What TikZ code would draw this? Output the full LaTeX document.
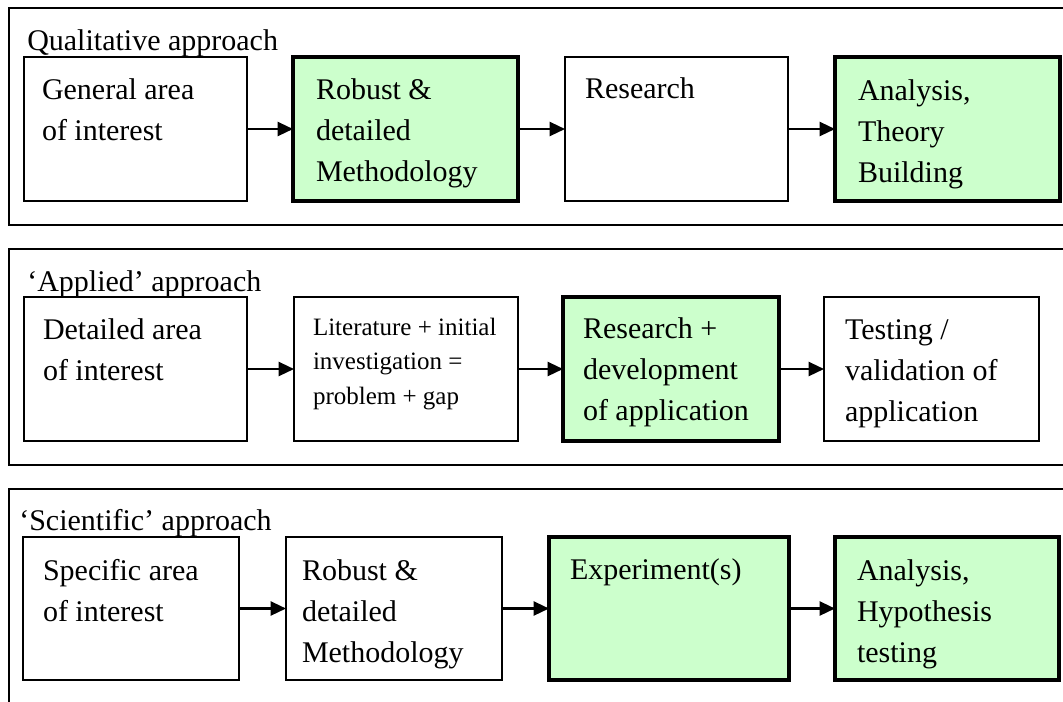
\documentclass[tikz,border=0pt]{standalone}
\usepackage{fontspec}
\setmainfont{Liberation Serif}
\usetikzlibrary{arrows.meta}
\definecolor{keygreen}{HTML}{CCFFCC}
% one drawing unit
\newdimen\pxu \pxu=0.75pt
\newcommand\mainsize{\fontsize{22.5pt}{30.75pt}\selectfont}
\newcommand\smallsize{\fontsize{18.75pt}{25.9pt}\selectfont}
% box body: #1 width, #2 height, #3 left inset, #4 first baseline depth, #5 lines
\newcommand\boxlines[5]{\parbox[c][#2\pxu][t]{#1\pxu}{\raggedright\leftskip=#3\pxu\relax\rule{0pt}{#4\pxu}#5}}
\tikzset{
  panel/.style={draw, line width=1.5pt},
  plainbox/.style={draw, line width=1pt, fill=white, inner sep=0pt, outer sep=0pt, anchor=north west, font=\mainsize},
  keybox/.style={draw, line width=3pt, fill=keygreen, inner sep=0pt, outer sep=0pt, anchor=north west, font=\mainsize},
  flow/.style={line width=1.7pt, -{Triangle[length=11.5pt,width=10.5pt]}},
  heading/.style={anchor=base west, inner sep=0pt, font=\mainsize}
}
\begin{document}
\begin{tikzpicture}[x=0.75pt,y=-0.75pt]
\useasboundingbox (0,0) rectangle (1063,701);
\clip (0,0) rectangle (1063,701);
\fill[white] (0,0) rectangle (1063,701);

% frames
\draw[panel] (9,8) rectangle (1085,225);
\draw[panel] (9,249) rectangle (1085,465);
\draw[panel] (9,489) rectangle (1085,730);

% qualitative row
\node[heading] (qah) at (27,50) {Qualitative approach};
\node[plainbox] (qa1) at (24,57) {\boxlines{223}{144}{18}{42}{General area\\of interest}};
\node[keybox] (qa2) at (293,57) {\boxlines{225}{144}{23}{42}{Robust \&\\detailed\\Methodology}};
\node[plainbox] (qa3) at (565,57) {\boxlines{223}{144}{20}{41}{Research}};
\node[keybox] (qa4) at (835,57) {\boxlines{225}{144}{23}{43}{Analysis,\\Theory\\Building}};
\draw[flow] (qa1.east) -- (qa2.west);
\draw[flow] (qa2.east) -- (qa3.west);
\draw[flow] (qa3.east) -- (qa4.west);

% applied row
\node[heading] (aph) at (27,291) {‘Applied’ approach};
\node[plainbox] (ap1) at (24,297) {\boxlines{223}{144}{19}{42}{Detailed area\\of interest}};
\node[plainbox, font=\smallsize] (ap2) at (294,297) {\boxlines{224}{144}{19}{38}{Literature + initial\\investigation =\\problem + gap}};
\node[keybox] (ap3) at (563,297) {\boxlines{216}{144}{20}{41}{Research +\\development\\of application}};
\node[plainbox] (ap4) at (824,297) {\boxlines{215}{144}{21}{42}{Testing /\\validation of\\application}};
\draw[flow] (ap1.east) -- (ap2.west);
\draw[flow] (ap2.east) -- (ap3.west);
\draw[flow] (ap3.east) -- (ap4.west);

% scientific row
\node[heading] (sch) at (19,530) {‘Scientific’ approach};
\node[plainbox] (sc1) at (23,537) {\boxlines{216}{143}{20}{43}{Specific area\\of interest}};
\node[plainbox] (sc2) at (286,537) {\boxlines{216}{143}{16}{43}{Robust \&\\detailed\\Methodology}};
\node[keybox] (sc3) at (549,537) {\boxlines{240}{143}{21}{42}{Experiment(s)}};
\node[keybox] (sc4) at (835,537) {\boxlines{224}{143}{22}{43}{Analysis,\\Hypothesis\\testing}};
\draw[flow] (sc1.east) -- (sc2.west);
\draw[flow] (sc2.east) -- (sc3.west);
\draw[flow] (sc3.east) -- (sc4.west);
\end{tikzpicture}
\end{document}
